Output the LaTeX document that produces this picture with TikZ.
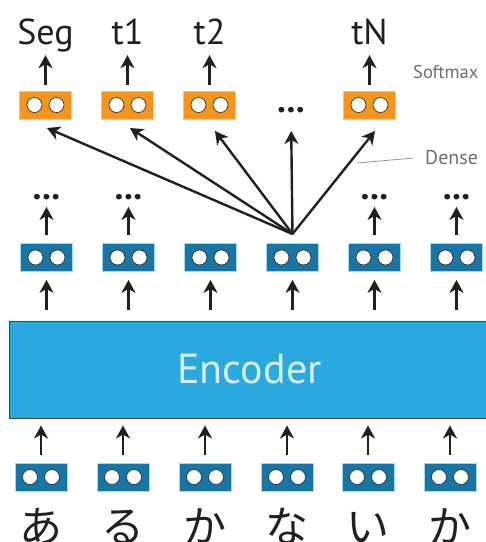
\documentclass[tikz,border=0pt]{standalone}
\usepackage{fontspec}
\setmainfont{PT Sans}
\newfontfamily\jpfont{Noto Sans CJK JP}
\usetikzlibrary{arrows.meta}
\definecolor{unitblue}{HTML}{1677A7}
\definecolor{unitorange}{HTML}{F7941D}
\definecolor{encblue}{HTML}{29A9E0}
\definecolor{encedge}{HTML}{414042}
\definecolor{unitedge}{HTML}{A9D9F0}
\definecolor{ink}{HTML}{231F20}
\definecolor{notegray}{HTML}{6D6E71}
\definecolor{linegray}{HTML}{939598}
\begin{document}
\begin{tikzpicture}[x=1pt,y=1pt,
  unit/.style={draw=unitedge, line width=0.8pt, minimum width=52pt, minimum height=28pt, inner sep=0pt,
    path picture={\foreach \dx in {-11,11}
      \draw[ink, line width=0.6pt, fill=white] ([xshift=\dx pt]path picture bounding box.center) circle (7.5pt);}},
  arr/.style={ink, line width=2.4pt, -{Stealth[length=13pt,width=14pt,inset=4pt]}},
  lbl/.style={ink, inner sep=0pt, text depth=0pt, anchor=base, font=\fontsize{36}{36}\selectfont},
  dots/.style={ink, inner sep=0pt, font=\fontsize{36}{36}\selectfont\bfseries},
  note/.style={notegray, inner sep=0pt, anchor=base west},
  jp/.style={ink, inner sep=0pt, anchor=base, font=\fontsize{43}{43}\selectfont\jpfont}]
\useasboundingbox (0,0) rectangle (486,-542);
\node[draw=encedge, fill=encblue, line width=1pt, minimum width=481pt, minimum height=97pt, inner sep=0pt,
  text=white!82!encblue, font=\fontsize{42}{42}\selectfont] (enc) at (249.5,-369.5) {Encoder};
\foreach \x/\ch [count=\i] in {41/あ,123/る,205/か,287/な,368/い,450/か} {
  \node[unit, fill=unitblue] (b\i) at (\x,-477) {};
  \node[jp] (c\i) at (\x,-542) {\ch};
  \draw[arr, shorten <=8pt, shorten >=7pt] (b\i.north) -- (b\i.north |- enc.south);
}
\foreach \i in {1,...,6} {
  \node[unit, fill=unitblue] (m\i) at ({46.5+82*(\i-1)},-257.5) {};
  \draw[arr, shorten <=11pt, shorten >=8pt] (m\i.south |- enc.north) -- (m\i.south);
}
\foreach \i in {1,2,5,6} {
  \node[dots] (u\i) at ({46.5+82*(\i-1)},-197) {...};
  \draw[arr, shorten <=8pt, shorten >=7pt] (m\i.north) -- (u\i.south);
}
\foreach \x/\t [count=\i] in {45.5/Seg,127.5/t1,209.5/t2,369.5/tN} {
  \node[unit, fill=unitorange] (o\i) at (\x,-105) {};
  \node[lbl] (s\i) at (\x,-44) {\t};
  \draw[arr, shorten <=6pt, shorten >=11pt] (o\i.north) -- (s\i.south);
}
\node[dots] (odots) at (291,-110) {...};
\coordinate (fan) at (292.5,-234);
\coordinate (h1) at (47,-128);
\coordinate (h2) at (130,-128);
\coordinate (h3) at (215,-131);
\coordinate (h4) at (375,-131);
\foreach \i in {1,...,4}
  \draw[arr] (fan) -- (h\i);
\draw[arr, shorten >=18pt] (fan) -- (odots.south);
\node[note, font=\fontsize{18.5}{18.5}\selectfont] (softmax) at (413,-78) {Softmax};
\node[note, font=\fontsize{20}{20}\selectfont] (dense) at (425,-164) {Dense};
\coordinate (densept) at (357,-163);
\draw[linegray, line width=0.8pt, shorten >=12pt] (densept) -- (dense.west);
\end{tikzpicture}
\end{document}
